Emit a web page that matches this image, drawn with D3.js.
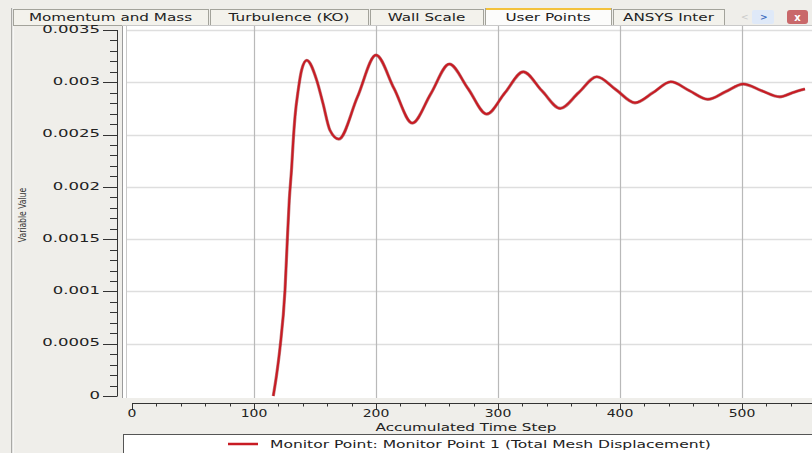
<!DOCTYPE html>
<html><head><meta charset="utf-8">
<script src="https://cdn.jsdelivr.net/npm/d3@7"></script>
<style>
html,body{margin:0;padding:0;background:#efeeea;}
svg{display:block;}
text{font-family:"DejaVu Sans",Verdana,sans-serif;fill:#222;}
</style></head>
<body>
<svg id="chart" width="812" height="453"></svg>
<script>
// ---- data ----
const tabs = ["Momentum and Mass", "Turbulence (KO)", "Wall Scale", "User Points", "ANSYS Inter"];
const activeTab = "User Points";
const xTicks = [0, 100, 200, 300, 400, 500];
const yTicks = [0, 0.0005, 0.001, 0.0015, 0.002, 0.0025, 0.003, 0.0035];
const yTickLabels = ["0", "0.0005", "0.001", "0.0015", "0.002", "0.0025", "0.003", "0.0035"];
const steps = [115.8, 118.5, 121.3, 125.4, 127.3, 128.9, 130.9, 132.2, 133.6, 136.3, 139.1, 143.2, 151.4, 156.5, 162.3, 169.5,
  184.8, 200.0, 214.8, 229.7, 244.9, 260.1, 275.4, 290.7, 305.7, 320.7, 335.9, 351.0, 366.0, 381.0, 396.6, 412.3,
  427.0, 441.6, 456.8, 472.0, 486.5, 501.0, 516.0, 531.0, 541.3, 551.6];
const values = [0, 0.00020, 0.00046, 0.00101, 0.00149, 0.00187, 0.00219, 0.00245, 0.00267, 0.00293, 0.00312, 0.00321, 0.00302, 0.00280, 0.00254, 0.002457,
  0.00286, 0.00326, 0.00294, 0.00261, 0.00289, 0.003174, 0.00294, 0.002696, 0.00290, 0.00310, 0.00292, 0.00275, 0.00290, 0.003053, 0.00293, 0.002804,
  0.00290, 0.003005, 0.00292, 0.002837, 0.00291, 0.002983, 0.00292, 0.002861, 0.00290, 0.002935];
const seriesName = "Monitor Point: Monitor Point 1 (Total Mesh Displacement)";
const xTitle = "Accumulated Time Step";
const yTitle = "Variable Value";

const svg = d3.select("#chart");
const SX = 1.42; // horizontal stretch of the captured text
const red = "#c81b23";

const x = d3.scaleLinear().domain([0, 500]).range([132, 742]);
const y = d3.scaleLinear().domain([0, 0.0035]).range([396, 30]);

function stext(g, tx, ty, str, anchor, size, sx) {
  return g.append("text")
    .attr("transform", `translate(${tx},${ty}) scale(${sx || SX},1)`)
    .attr("text-anchor", anchor).attr("dominant-baseline", "central")
    .style("font-size", size + "px").text(str);
}

// window left border
svg.append("rect").attr("x", 11).attr("y", 8).attr("width", 1.5).attr("height", 445).attr("fill", "#a9a9a6");
svg.append("rect").attr("x", 12.5).attr("y", 8).attr("width", 1).attr("height", 445).attr("fill", "#ffffff");

// tab bar
const tabX = [13, 210, 370, 485, 613, 726];
const tg = svg.append("g");
tabs.forEach((t, i) => {
  const active = t === activeTab;
  tg.append("rect").attr("x", tabX[i] + 0.5).attr("y", active ? 8.5 : 9.5)
    .attr("width", tabX[i + 1] - tabX[i] - 2).attr("height", active ? 17 : 16)
    .attr("fill", active ? "#fcfcfb" : "#f3f2ec").attr("stroke", "#a3a39b");
  if (active) tg.append("rect").attr("x", tabX[i] + 1).attr("y", 8).attr("width", tabX[i + 1] - tabX[i] - 3).attr("height", 2).attr("fill", "#f3c13a");
  stext(tg, (tabX[i] + tabX[i + 1] - 2) / 2, 17, t, "middle", 10.5, 1.45);
});
tg.append("text").attr("x", 741).attr("y", 17).attr("dominant-baseline", "central").style("font-size", "9px").style("fill", "#c9c9c9").text("<");
tg.append("rect").attr("x", 752).attr("y", 10).attr("width", 22).attr("height", 14).attr("rx", 2).attr("fill", "#dfe9f8");
tg.append("text").attr("x", 760).attr("y", 17).attr("dominant-baseline", "central").style("font-size", "9px").style("fill", "#3f6fc0").style("font-weight", "bold").text(">");
tg.append("rect").attr("x", 787).attr("y", 10).attr("width", 21).attr("height", 14).attr("rx", 3).attr("fill", "#c9686a");
tg.append("text").attr("x", 797.5).attr("y", 17).attr("text-anchor", "middle").attr("dominant-baseline", "central").style("font-size", "10px").style("fill", "#ffffff").style("font-weight", "bold").text("x");

// plot area
svg.append("rect").attr("x", 123).attr("y", 26).attr("width", 700).attr("height", 372).attr("fill", "#ffffff");
svg.append("line").attr("x1", 122.5).attr("x2", 122.5).attr("y1", 26).attr("y2", 398).attr("stroke", "#9b9b9b");
svg.append("line").attr("x1", 126.5).attr("x2", 126.5).attr("y1", 26).attr("y2", 398).attr("stroke", "#c9c9c9");
svg.append("line").attr("x1", 122).attr("x2", 812).attr("y1", 25.5).attr("y2", 25.5).attr("stroke", "#c9c9c9");

// grid
const grid = svg.append("g");
grid.selectAll("line.h").data(yTicks.filter(d => d > 0)).join("line")
  .attr("x1", 127).attr("x2", 812).attr("y1", d => Math.round(y(d)) + 0.5).attr("y2", d => Math.round(y(d)) + 0.5)
  .attr("stroke", "#dedede").attr("stroke-width", 1.5);
grid.selectAll("line.v").data(xTicks.filter(d => d > 0)).join("line")
  .attr("y1", 26).attr("y2", 398).attr("x1", d => Math.round(x(d)) + 0.5).attr("x2", d => Math.round(x(d)) + 0.5)
  .attr("stroke", "#b9b9b9").attr("stroke-width", 1.2);

// y axis
const ya = svg.append("g");
ya.append("line").attr("x1", 117.5).attr("x2", 117.5).attr("y1", y(0.0035)).attr("y2", y(0)).attr("stroke", "#333");
ya.selectAll("line.minor").data(d3.range(0, 36).map(i => i * 0.0001)).join("line")
  .attr("x1", (d, i) => i % 5 === 0 ? 103 : 110).attr("x2", 117.5)
  .attr("y1", d => Math.round(y(d)) + 0.5).attr("y2", d => Math.round(y(d)) + 0.5).attr("stroke", "#333");
yTicks.forEach((v, i) => stext(ya, 100, y(v) - 1, yTickLabels[i], "end", 10, 1.65));
ya.append("text").attr("transform", "translate(23,215) rotate(-90) scale(0.85,1.1)")
  .attr("text-anchor", "middle").attr("dominant-baseline", "central")
  .style("font-size", "9px").style("fill", "#333").text(yTitle);

// x axis
const xa = svg.append("g");
xa.append("line").attr("x1", 132).attr("x2", 812).attr("y1", 403.5).attr("y2", 403.5).attr("stroke", "#333");
xa.selectAll("line.t").data(d3.range(0, 29).map(i => i * 20)).join("line")
  .attr("x1", d => Math.round(x(d)) + 0.5).attr("x2", d => Math.round(x(d)) + 0.5)
  .attr("y1", 403).attr("y2", d => d % 100 === 0 ? 410 : 406.5).attr("stroke", "#333");
xTicks.forEach(v => stext(xa, x(v), 414, String(v), "middle", 10, 1.4));
stext(xa, 466, 427, xTitle, "middle", 10.5, 1.45);

// series line
const line = d3.line().x((d, i) => x(steps[i])).y(d => y(d)).curve(d3.curveMonotoneX);
svg.append("path").datum(values).attr("d", line).attr("fill", "none")
  .attr("stroke", "#8e1a1e").attr("stroke-width", 3.2).attr("stroke-linejoin", "round").attr("opacity", 0.55);
svg.append("path").datum(values).attr("d", line).attr("fill", "none")
  .attr("stroke", red).attr("stroke-width", 2).attr("stroke-linejoin", "round");

// legend
const lg = svg.append("g");
lg.append("rect").attr("x", 123.5).attr("y", 434.5).attr("width", 700).attr("height", 30).attr("fill", "#ffffff").attr("stroke", "#555");
lg.append("line").attr("x1", 228).attr("x2", 258).attr("y1", 444).attr("y2", 444).attr("stroke", red).attr("stroke-width", 2.5);
stext(lg, 270, 444, seriesName, "start", 10.5, 1.48);
</script>
</body></html>
